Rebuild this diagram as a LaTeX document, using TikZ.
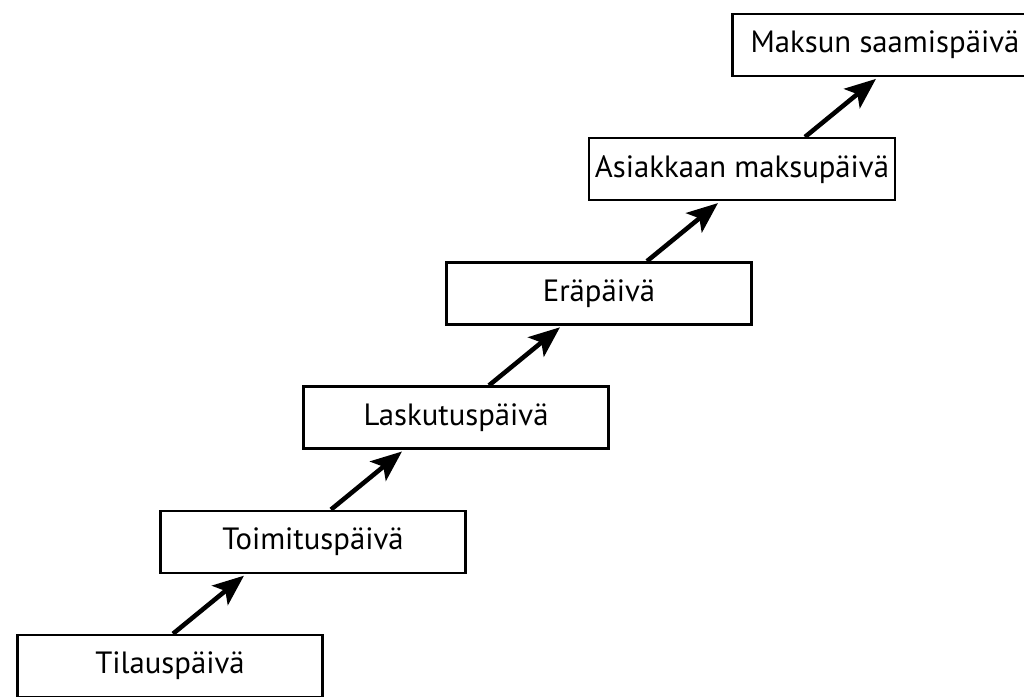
\documentclass[tikz,border=0pt]{standalone}
\usepackage{fontspec}
\setmainfont{PT Sans}
\usetikzlibrary{arrows.meta}

\begin{document}
\begin{tikzpicture}
    % Define colours
    \definecolor{borderColour}{HTML}{000000}
    \definecolor{fillColour}{HTML}{FFFFFF}

    % Define step between the boxes
    \def\stepX{2.86}
    \def\stepY{2.484}

    % Fix the picture size
    \clip (0,0) rectangle (20.48,13.94);

    \tikzset{
        dateBox/.style={draw=borderColour, fill=fillColour, line width=1.4pt,
            minimum width=6.1cm, minimum height=1.24cm,
            font=\fontsize{17.5}{20}\selectfont},
        stepArrow/.style={draw=borderColour, line width=2.6pt,
            -{Stealth[length=0.62cm,width=0.5cm,inset=0.14cm]}, shorten >=1.5pt}
    }

    % Draw the date boxes
    \foreach \label [count=\i from 0] in {Tilauspäivä, Toimituspäivä, Laskutuspäivä, Eräpäivä, Asiakkaan maksupäivä, Maksun saamispäivä}
        \node[dateBox] (d\i) at (3.40+\i*\stepX, 0.62+\i*\stepY) {\label};

    % Draw the arrows from box to box
    \foreach \i [evaluate=\i as \j using int(\i+1),
                 evaluate=\i as \startShift using 0.06+0.3*\i,
                 evaluate=\i as \endShift using -1.34+0.3*\i] in {0,...,4}
        \draw[stepArrow] ([xshift=\startShift cm]d\i.north) -- ([xshift=\endShift cm]d\j.south);

\end{tikzpicture}
\end{document}
